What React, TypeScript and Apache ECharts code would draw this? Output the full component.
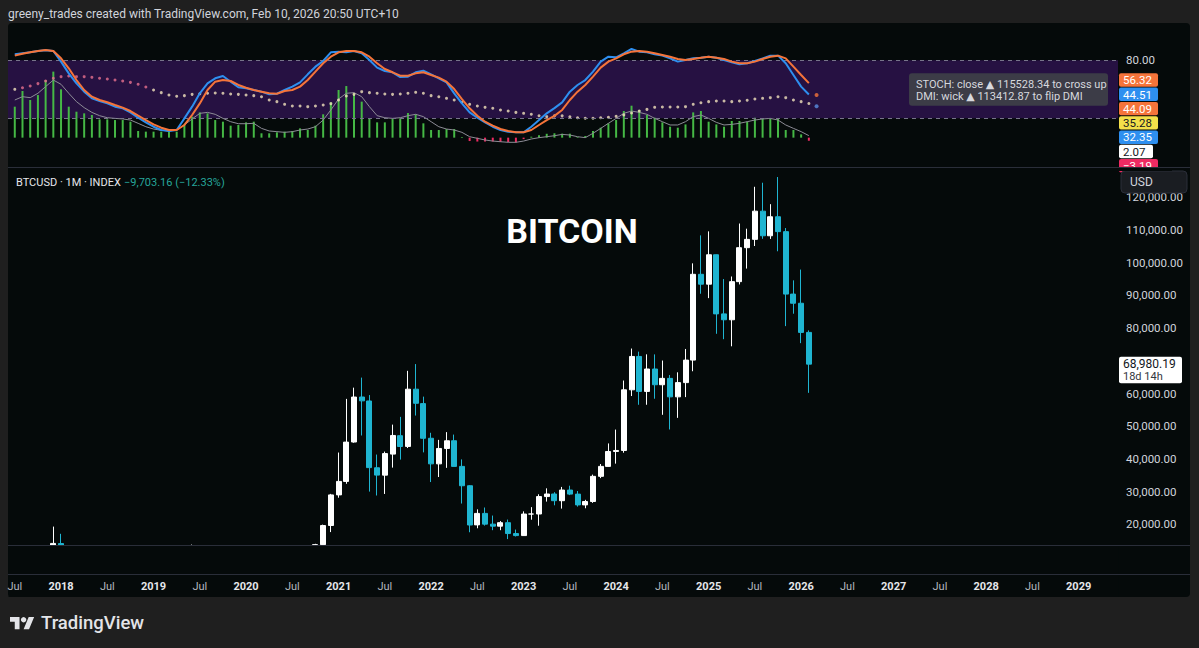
import React, { useEffect, useRef } from 'react';
import * as echarts from 'echarts';

// ---- time base: index 0 = Jul 2017, one step per month ----
const START_YEAR = 2017;
const START_MONTH = 7;

// ---- BTCUSD monthly candles (Jul 2017 .. Feb 2026) ----
const opens = [
  2492, 2871, 4701, 4341, 6449, 10198,
  14112, 10237, 10385, 6926, 9251, 7500, 6411, 7769, 7044, 6619, 6318, 4024,
  3746, 3460, 3853, 4106, 5351, 8573, 10796, 10078, 9630, 8299, 9193, 7571,
  7194, 9346, 8600, 6437, 8672, 9463, 9145, 11322, 11679, 10795, 13780, 19633,
  28994, 33115, 45159, 58926, 57714, 37293, 35035, 41461, 47099, 43816, 61320, 56907,
  46311, 38481, 43194, 45554, 37713, 31792, 19820, 23336, 20050, 19432, 20495, 17168,
  16548, 23139, 23147, 28478, 29268, 27219, 30477, 29230, 25931, 26967, 34667, 37712,
  42265, 42582, 61130, 71333, 60636, 67491, 62678, 64626, 58974, 63327, 70215, 96449,
  93429, 102429, 84350, 82548, 94207, 104591, 107135, 115758, 108236, 114049, 109500, 90400,
  87600, 78683.35,
];
const highs = [
  2917, 4736, 4975, 6470, 11517, 19300,
  17100, 11958, 11710, 9745, 9964, 7754, 8468, 7769, 7402, 7680, 6552, 4309,
  4109, 4210, 4296, 5642, 9008, 13796, 12567, 12273, 10898, 10370, 9505, 7743,
  9553, 10500, 9188, 9440, 10067, 10427, 11444, 12468, 12067, 14029, 19900, 29300,
  41946, 58352, 61788, 64863, 59519, 41330, 42235, 50482, 52853, 66930, 69000, 59041,
  47990, 45821, 48190, 47434, 39845, 31957, 24572, 25135, 22673, 20988, 21446, 18388,
  23955, 25250, 29184, 31000, 29820, 31432, 31804, 30176, 27483, 35198, 38431, 44729,
  48969, 63968, 73750, 72797, 71979, 71963, 70079, 65660, 66480, 73620, 99800, 108353,
  109588, 102500, 95000, 95780, 111980, 110400, 123218, 124457, 117900, 126200, 110600, 94600,
  97900, 79300,
];
const lows = [
  1837, 2700, 2972, 4110, 5519, 10100,
  9402, 6048, 6600, 6526, 7090, 5826, 6133, 5880, 6100, 6205, 3652, 3191,
  3400, 3391, 3733, 4096, 5332, 7564, 9163, 9421, 7830, 7300, 6617, 6435,
  6914, 8470, 3850, 6150, 8116, 8975, 8977, 10981, 9875, 10416, 13243, 17619,
  28130, 32385, 44950, 47159, 30000, 28805, 29279, 37332, 39787, 43320, 53256, 42000,
  32917, 34459, 37260, 37697, 26350, 17567, 18782, 19600, 18200, 18200, 15476, 16272,
  16500, 21405, 19569, 26942, 25811, 24797, 28934, 25409, 24901, 26553, 34117, 37626,
  38555, 41884, 59224, 56552, 56557, 58402, 53485, 49000, 52550, 58895, 66803, 90500,
  89164, 78258, 76606, 74434, 93350, 98200, 105100, 107300, 107270, 103500, 80600, 84400,
  75400, 60200,
];
const closes = [
  2875, 4703, 4338, 6468, 10233, 14156,
  10221, 10397, 6973, 9240, 7494, 6404, 7780, 7037, 6625, 6318, 4017, 3743,
  3457, 3854, 4105, 5350, 8574, 10817, 10085, 9630, 8293, 9199, 7569, 7193,
  9350, 8600, 6410, 8658, 9461, 9137, 11323, 11680, 10784, 13781, 19625, 28990,
  33114, 45137, 58918, 57750, 37332, 35041, 41626, 47166, 43790, 61318, 57005, 46306,
  38483, 43193, 45538, 37714, 31792, 19785, 23336, 20050, 19432, 20495, 17168, 16548,
  23139, 23147, 28478, 29268, 27219, 30477, 29230, 25931, 26967, 34667, 37712, 42265,
  42582, 61130, 71333, 60636, 67491, 62678, 64626, 58974, 63327, 70215, 96449, 93429,
  102429, 84350, 82548, 94207, 104591, 107135, 115758, 108236, 114049, 109500, 90400, 87600,
  78683.35, 68980.19,
];

// ---- indicator pane ----
const stochK = [
  86.1, 87.1, 88.1, 89.5, 90.2, 89.5, 78.5, 66.4, 56.1, 47.5, 40.6, 37.9,
  35.4, 32.0, 30.3, 26.1, 20.6, 15.8, 11.3, 7.9, 6.8, 7.9, 19.9, 32.0,
  45.8, 56.1, 61.3, 63.7, 57.8, 52.0, 50.9, 49.2, 47.5, 44.7, 45.4, 49.2,
  52.7, 57.1, 65.4, 73.3, 79.2, 88.1, 88.8, 88.1, 89.5, 87.1, 80.2, 72.3,
  68.8, 67.5, 62.6, 63.0, 67.5, 69.2, 65.4, 61.3, 57.1, 45.8, 35.4, 26.1,
  20.6, 15.8, 11.3, 7.9, 6.2, 5.5, 5.5, 11.3, 18.2, 25.1, 30.5, 36.4,
  47.5, 54.4, 59.5, 68.2, 78.5, 83.6, 83.0, 87.1, 91.6, 88.8, 88.1, 86.1,
  84.7, 81.9, 78.5, 80.2, 81.9, 82.6, 83.6, 82.6, 80.2, 77.8, 75.7, 76.8,
  79.2, 81.9, 84.7, 84.7, 76.8, 64.7, 52.7, 44.51,
];
const stochD = [
  84.7, 86.7, 88.1, 89.5, 90.5, 89.5, 81.9, 71.6, 59.5, 49.2, 42.3, 38.9,
  36.5, 33.7, 31.0, 27.5, 22.7, 18.2, 13.7, 10.3, 7.9, 7.9, 13.1, 23.4,
  35.4, 49.2, 57.8, 59.5, 58.5, 54.4, 51.6, 49.2, 47.5, 45.8, 45.4, 48.2,
  49.2, 52.7, 59.5, 68.2, 76.8, 83.6, 88.1, 89.5, 89.5, 88.1, 83.6, 76.8,
  70.9, 67.5, 64.0, 64.0, 66.4, 67.5, 64.7, 62.0, 57.8, 50.2, 39.9, 30.3,
  22.7, 16.5, 12.4, 8.9, 6.9, 5.5, 5.5, 7.9, 13.1, 18.2, 22.5, 28.6,
  38.9, 47.5, 54.4, 63.0, 72.3, 78.5, 81.9, 86.1, 88.8, 89.5, 88.8, 87.1,
  85.4, 83.6, 81.2, 80.2, 81.2, 82.6, 83.6, 82.6, 81.2, 78.5, 76.8, 76.8,
  78.5, 81.2, 83.6, 84.7, 81.9, 73.3, 64.7, 56.32,
];
const dmiDots = [
  49.9, 51.6, 53.3, 55.8, 58.5, 61.3, 63.0, 63.7, 63.0, 63.0, 62.3, 61.3,
  60.6, 59.5, 58.5, 57.1, 55.1, 52.3, 49.2, 46.5, 44.1, 42.7, 43.4, 44.7,
  45.4, 45.8, 46.1, 45.8, 45.1, 44.7, 44.1, 43.4, 42.3, 38.9, 37.2, 34.4,
  32.7, 32.7, 32.0, 32.7, 33.7, 35.1, 38.9, 43.0, 44.7, 47.5, 46.5, 45.8,
  45.1, 44.7, 45.1, 45.8, 46.8, 45.8, 43.4, 42.3, 40.6, 38.9, 36.5, 34.4,
  32.7, 31.3, 30.3, 28.6, 27.5, 26.1, 25.1, 24.1, 22.7, 21.7, 22.5, 22.5,
  21.5, 20.5, 20.0, 20.0, 20.5, 21.0, 22.0, 23.5, 25.5, 27.5, 29.2, 31.3,
  31.7, 31.7, 31.7, 32.0, 34.4, 36.1, 37.2, 37.9, 37.9, 37.2, 37.9, 38.6,
  39.9, 40.6, 41.3, 42.3, 41.3, 38.9, 37.2, 35.28,
];
const dmiLine = [
  38.9, 42.3, 41.3, 45.8, 52.7, 59.5, 55.1, 45.8, 37.2, 31.0, 26.1, 22.7,
  20.6, 19.9, 19.3, 18.2, 14.8, 11.3, 8.9, 7.6, 6.9, 7.9, 13.1, 19.3,
  25.1, 26.1, 24.1, 19.9, 16.5, 14.4, 14.4, 14.8, 9.6, 6.9, 6.2, 5.5,
  6.2, 7.9, 8.9, 11.3, 18.2, 28.6, 39.9, 45.8, 46.5, 42.3, 32.0, 22.7,
  20.6, 19.9, 20.6, 22.7, 24.1, 21.7, 16.5, 11.3, 8.9, 7.9, 5.5, 1.0,
  -0.7, -2.4, -3.5, -4.2, -4.8, -4.8, -3.5, -1.4, 0.0, 1.0, 2.0, 3.4,
  2.7, 1.0, 0.0, 4.5, 9.6, 14.8, 19.9, 25.1, 27.5, 26.1, 24.1, 19.9,
  16.5, 13.1, 13.1, 16.5, 21.7, 23.4, 19.9, 15.8, 13.1, 13.7, 14.8, 16.5,
  18.2, 19.3, 19.9, 18.2, 13.1, 9.6, 6.2, 2.07,
];
const dmiHist = [
  32.0, 48.2, 38.9, 44.0, 59.5, 68.2, 49.9, 32.0, 26.8, 25.1, 23.4, 18.9,
  18.9, 18.2, 18.2, 16.5, 6.9, 6.2, 6.2, 6.2, 6.2, 6.2, 13.7, 21.7,
  26.1, 25.1, 18.2, 16.5, 12.4, 13.1, 15.8, 16.5, 4.5, 4.5, 5.5, 6.2,
  6.9, 9.6, 7.9, 12.4, 24.1, 36.5, 49.2, 53.3, 45.8, 37.2, 19.3, 15.8,
  15.8, 19.3, 19.9, 25.4, 24.1, 14.8, 7.9, 7.9, 8.9, 8.9, 0.7, -3.5,
  -4.0, -4.0, -4.0, -4.5, -4.5, -5.0, -1.5, 1.0, 2.5, 4.0, 4.5, 4.1,
  4.1, 0.7, 1.7, 6.9, 10.3, 14.8, 18.2, 27.5, 33.0, 28.6, 23.4, 20.6,
  15.8, 11.3, 10.3, 13.7, 26.1, 27.5, 16.5, 13.7, 11.3, 17.2, 17.2, 16.5,
  20.6, 19.9, 19.9, 19.9, 7.9, 7.9, 3.4, -3.19,
];
const nextStochD = 44.09;
const nextStochK = 32.35;
const bandLevels = [20, 80];

const priceChange = -9703.16;
const priceChangePct = -12.33;
const countdown = '18d 14h';
const alertLines = [
  'STOCH: close \u25B2 115528.34 to cross up',
  'DMI: wick \u25B2 113412.87 to flip DMI',
];
const headerText = 'greeny_trades created with TradingView.com, Feb 10, 2026 20:50 UTC+10';
const symbolText = 'BTCUSD \u00B7 1M \u00B7 INDEX';
const titleText = 'BITCOIN';

// ---- styling ----
const FONT = 'Roboto, "Noto Sans", "DejaVu Sans", sans-serif';
const BG = '#050a0a';
const UP = '#ffffff';
const DOWN = '#1fb5d1';
const BLUE = '#2e8ff0';
const ORANGE = '#f5743a';
const GREEN = '#45b845';
const RED = '#ee2a62';
const SEP = '#2a2e39';

const fmt2 = (v: number) => {
  const s = Math.abs(v).toLocaleString('en-US', { minimumFractionDigits: 2, maximumFractionDigits: 2 });
  return v < 0 ? '\u2212' + s : s;
};

const X_MIN = -0.88;
const X_MAX = 143.1;
const last = closes.length - 1;

function buildOption(): any {
  const xBase = { type: 'value', min: X_MIN, max: X_MAX, minInterval: 6, maxInterval: 6 };
  const idx = (arr: number[]) => arr.map((v, i) => [i, v]);
  return {
    animation: false,
    backgroundColor: 'transparent',
    textStyle: { fontFamily: FONT },
    grid: [
      { left: 8, right: 81, top: 23, height: 144 },
      { left: 8, right: 81, top: 168, height: 377 },
      { left: 8, right: 81, top: 545, height: 29 },
    ],
    xAxis: [
      { ...xBase, gridIndex: 0, show: false },
      { ...xBase, gridIndex: 1, show: false },
      {
        ...xBase,
        gridIndex: 2,
        z: 60,
        axisLine: { show: false },
        axisTick: { show: false },
        splitLine: { show: false },
        axisLabel: {
          showMinLabel: false,
          showMaxLabel: false,
          margin: 7,
          formatter: (v: number) => {
            const m = Math.round(v) + START_MONTH - 1;
            const cal = ((m % 12) + 12) % 12;
            const year = START_YEAR + Math.floor(m / 12);
            if (cal === 0) return '{y|' + year + '}';
            if (cal === 6) return '{m|Jul}';
            return '';
          },
          rich: {
            y: { fontSize: 11, fontWeight: 'bold', color: '#e6e7ea', fontFamily: FONT },
            m: { fontSize: 11, color: '#b4b7bf', fontFamily: FONT },
          },
        },
      },
    ],
    yAxis: [
      { gridIndex: 0, type: 'value', min: -30.3, max: 118.4, show: false },
      {
        gridIndex: 1,
        type: 'value',
        position: 'right',
        min: 13670,
        max: 128960,
        minInterval: 10000,
        maxInterval: 10000,
        axisLine: { show: false },
        axisTick: { show: false },
        splitLine: { show: false },
        axisLabel: {
          showMinLabel: false,
          showMaxLabel: false,
          margin: 8,
          color: '#d1d4dc',
          fontSize: 11.5,
          fontFamily: FONT,
          formatter: (v: number) => fmt2(v),
        },
      },
      { gridIndex: 2, type: 'value', show: false },
    ],
    series: [
      {
        type: 'bar',
        name: 'hist',
        xAxisIndex: 0,
        yAxisIndex: 0,
        barWidth: 2,
        data: idx(dmiHist),
        itemStyle: { color: (p: any) => (p.value[1] >= 0 ? GREEN : RED) },
        markArea: {
          silent: true,
          itemStyle: { color: '#261142' },
          data: [[{ yAxis: bandLevels[0] }, { yAxis: bandLevels[1] }]],
        },
      },
      {
        type: 'line',
        name: 'dmiLine',
        xAxisIndex: 0,
        yAxisIndex: 0,
        showSymbol: false,
        data: idx(dmiLine),
        lineStyle: { color: '#8d8c96', width: 1 },
        itemStyle: { color: '#8d8c96' },
        z: 3,
      },
      {
        type: 'scatter',
        name: 'dmiDots',
        xAxisIndex: 0,
        yAxisIndex: 0,
        symbolSize: 3,
        data: idx(dmiDots),
        itemStyle: {
          color: (p: any) => (p.dataIndex >= 1 && p.dataIndex <= 17 ? '#e8708f' : '#f3e4bd'),
        },
        z: 4,
      },
      {
        type: 'line',
        name: 'K',
        xAxisIndex: 0,
        yAxisIndex: 0,
        showSymbol: false,
        data: idx(stochK),
        lineStyle: { color: BLUE, width: 2 },
        itemStyle: { color: BLUE },
        z: 5,
        markLine: {
          silent: true,
          symbol: ['none', 'none'],
          lineStyle: { color: '#77748a', type: [4, 4], width: 1 },
          label: { show: false },
          data: [
            {
              yAxis: bandLevels[1],
              label: {
                show: true,
                position: 'end',
                distance: 8,
                formatter: fmt2(bandLevels[1]),
                color: '#d1d4dc',
                fontSize: 11.5,
                fontFamily: FONT,
              },
            },
            { yAxis: bandLevels[0] },
          ],
        },
      },
      {
        type: 'line',
        name: 'D',
        xAxisIndex: 0,
        yAxisIndex: 0,
        showSymbol: false,
        data: idx(stochD),
        lineStyle: { color: ORANGE, width: 2 },
        itemStyle: { color: ORANGE },
        z: 6,
      },
      {
        type: 'scatter',
        name: 'next',
        xAxisIndex: 0,
        yAxisIndex: 0,
        symbolSize: 4,
        data: [
          { value: [closes.length, nextStochD], itemStyle: { color: ORANGE } },
          { value: [closes.length, nextStochK], itemStyle: { color: '#5a8fe0' } },
        ],
        z: 6,
      },
      {
        type: 'candlestick',
        name: 'BTCUSD',
        xAxisIndex: 1,
        yAxisIndex: 1,
        barWidth: 5.5,
        clip: true,
        encode: { x: 0, y: [1, 2, 3, 4] },
        data: opens.map((o, i) => [i, o, closes[i], lows[i], highs[i]]),
        itemStyle: { color: UP, color0: DOWN, borderColor: UP, borderColor0: DOWN, borderWidth: 1 },
      },
    ],
  };
}

function buildGraphic(py: number): any[] {
  const Z = 100;
  const t = (text: string, x: number, y: number, font: string, fill: string, align = 'left', z = Z) => ({
    type: 'text',
    z,
    silent: true,
    style: { text, x, y, font, fill, textAlign: align, textVerticalAlign: 'middle' },
  });
  const r = (x: number, y: number, w: number, h: number, fill: string, radius = 0, z = Z, stroke?: string) => ({
    type: 'rect',
    z,
    silent: true,
    shape: { x, y, width: w, height: h, r: radius },
    style: stroke ? { fill, stroke, lineWidth: 1 } : { fill },
  });
  const hl = (y: number) => ({
    type: 'line',
    z: Z + 5,
    silent: true,
    shape: { x1: 8, y1: y, x2: 1190, y2: y },
    style: { stroke: SEP, lineWidth: 1 },
  });

  const stack = [
    { v: stochD[last], bg: ORANGE, fg: '#ffffff', w: 39 },
    { v: stochK[last], bg: BLUE, fg: '#ffffff', w: 39 },
    { v: nextStochD, bg: ORANGE, fg: '#ffffff', w: 39 },
    { v: dmiDots[last], bg: '#f3e04a', fg: '#131722', w: 39 },
    { v: nextStochK, bg: BLUE, fg: '#ffffff', w: 39 },
    { v: dmiLine[last], bg: '#ffffff', fg: '#131722', w: 34 },
    { v: dmiHist[last], bg: RED, fg: '#ffffff', w: 39 },
  ];
  const stackEls: any[] = [];
  stack.forEach((s, k) => {
    const top = 73.3 + k * 14.3;
    stackEls.push(r(1119, top, s.w, 13.4, s.bg, 2, Z + 1));
    stackEls.push(t(fmt2(s.v), 1123, top + 6.9, '11.5px ' + FONT, s.fg, 'left', Z + 2));
  });

  const changeStr = fmt2(priceChange) + ' (' + fmt2(priceChangePct) + '%)';

  return [
    // cover for the strip under the price pane (candles under the visible range)
    r(8.5, 546, 1110, 51, BG, 0, 50),
    // header
    t(headerText, 8, 13.5, '12px ' + FONT, '#d1d4dc'),
    // separators
    hl(167.5),
    hl(545.5),
    hl(574.5),
    // main pane legend
    t(symbolText, 16, 182, '11px ' + FONT, '#e6e7ea'),
    t(changeStr, 124, 182, '11px ' + FONT, '#26a69a'),
    // title
    t(titleText, 572, 231, 'bold 34px ' + FONT, '#ffffff', 'center'),
    // alert box
    r(909, 73.3, 199, 32.4, 'rgba(62,64,72,0.92)', 3),
    t(alertLines[0], 916, 84, '11px ' + FONT, '#d6d8de'),
    t(alertLines[1], 916, 96.5, '11px ' + FONT, '#d6d8de'),
    // value stack
    ...stackEls,
    r(1112, 168, 60, 3, BG, 0, Z + 3),
    // USD box
    r(1121, 171, 66, 22, '#1a1d22', 4, Z + 1, '#2a2e39'),
    t('USD', 1130, 182, '12px ' + FONT, '#d1d4dc', 'left', Z + 2),
    // last price box
    r(1119, py - 7.4, 63, 26.6, '#ffffff', 2, Z + 1),
    t(fmt2(closes[last]), 1123, py, '12px ' + FONT, '#131722', 'left', Z + 2),
    t(countdown, 1123, py + 12, '11px ' + FONT, '#333740', 'left', Z + 2),
    // TradingView logo
    { type: 'tvlogo', z: Z, silent: true, x: 10, y: 614.3, scaleX: 0.68, scaleY: 0.68, style: { fill: '#e3e4e8' } },
    { type: 'circle', z: Z, silent: true, shape: { cx: 10 + 20 * 0.68, cy: 614.3 + 8 * 0.68, r: 4 * 0.68 }, style: { fill: '#e3e4e8' } },
    t('TradingView', 41, 623, '500 18.5px ' + FONT, '#e3e4e8'),
  ];
}

let registered = false;

export default function App() {
  const ref = useRef<HTMLDivElement>(null);
  useEffect(() => {
    if (!registered) {
      echarts.graphic.registerShape(
        'tvlogo',
        echarts.graphic.extendPath('M14 22H7V11H0V4h14v18zM28 22h-8l7.5-18h8L28 22z', {}) as any
      );
      registered = true;
    }
    const chart = echarts.init(ref.current!, null, { renderer: 'svg' });
    chart.setOption(buildOption());
    const py = chart.convertToPixel({ yAxisIndex: 1 }, closes[last]) as unknown as number;
    chart.setOption({ graphic: buildGraphic(py) });
    return () => chart.dispose();
  }, []);
  return (
    <div style={{ position: 'fixed', left: 0, top: 0, width: 1199, height: 648, background: '#1f1f1f' }}>
      <div
        style={{
          position: 'absolute',
          left: 8,
          top: 23,
          width: 1182,
          height: 574,
          background: BG,
          borderRadius: 4,
        }}
      />
      <div ref={ref} style={{ position: 'absolute', left: 0, top: 0, width: 1199, height: 648 }} />
    </div>
  );
}
